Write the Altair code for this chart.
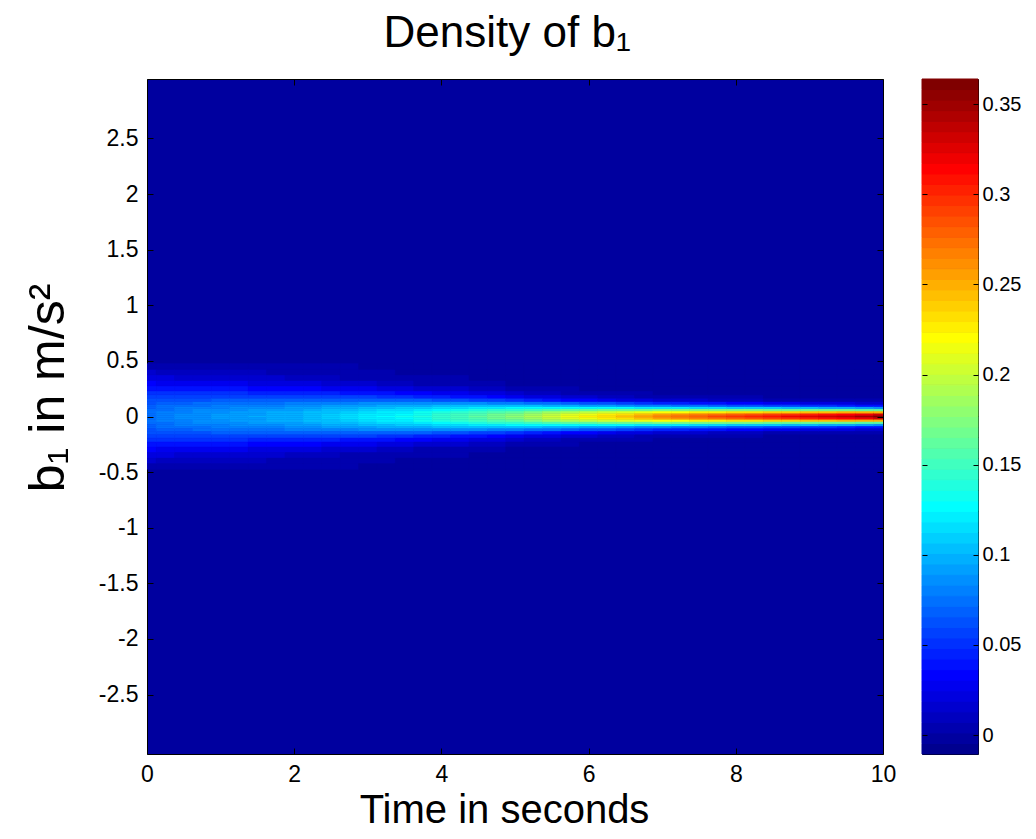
import altair as alt
import pandas as pd

# ---------------- text ----------------
TITLE = "Density of b₁"
X_TITLE = "Time in seconds"
Y_TITLE = "b₁ in m/s²"

# ---------------- data ----------------
# time columns (s)
times = [0, 0.25, 0.5, 0.75, 1, 1.25, 1.5, 1.75, 2, 2.25, 2.5, 2.75, 3, 3.25, 3.5, 3.75,
         4, 4.25, 4.5, 4.75, 5, 5.25, 5.5, 5.75, 6, 6.25, 6.5, 6.75, 7, 7.25, 7.5, 7.75,
         8, 8.25, 8.5, 8.75, 9, 9.25, 9.5, 9.75, 10]
# distance of each row from b1 = 0 (m/s^2), the profile is symmetric about 0
offsets = [0, 0.02, 0.04, 0.06, 0.08, 0.10, 0.12, 0.15, 0.18, 0.21, 0.25, 0.30, 0.35, 0.40, 0.45]
# density per time column, one value per offset
d_000 = [.075, .075, .074, .072, .070, .068, .065, .060, .055, .049, .041, .031, .021, .013, .007]
d_025 = [.080, .080, .079, .077, .074, .072, .068, .062, .056, .049, .040, .030, .020, .012, .007]
d_050 = [.085, .085, .083, .081, .078, .075, .071, .064, .057, .049, .039, .028, .018, .011, .006]
d_075 = [.088, .087, .086, .084, .080, .077, .073, .065, .057, .049, .039, .027, .017, .011, .006]
d_100 = [.090, .089, .088, .086, .082, .078, .074, .066, .057, .049, .038, .026, .016, .010, .005]
d_125 = [.093, .092, .091, .088, .084, .080, .075, .067, .057, .049, .037, .025, .015, .009, .005]
d_150 = [.095, .094, .093, .090, .086, .081, .076, .067, .057, .048, .036, .023, .014, .008, .004]
d_175 = [.098, .097, .095, .092, .088, .083, .077, .068, .057, .048, .035, .022, .013, .007, .004]
d_200 = [.100, .099, .097, .094, .090, .084, .078, .068, .057, .047, .034, .021, .012, .006, .003]
d_225 = [.105, .104, .102, .098, .093, .087, .080, .069, .057, .046, .032, .019, .010, .005, .003]
d_250 = [.110, .109, .106, .102, .096, .089, .081, .069, .056, .044, .030, .017, .008, .004, .002]
d_275 = [.115, .114, .111, .106, .099, .092, .083, .069, .055, .042, .028, .015, .007, .003, .002]
d_300 = [.120, .119, .115, .110, .102, .094, .084, .069, .054, .040, .025, .013, .006, .002, .001]
d_325 = [.125, .124, .120, .114, .105, .096, .085, .068, .052, .038, .023, .011, .005, .002, .001]
d_350 = [.130, .128, .124, .117, .108, .097, .085, .067, .050, .036, .021, .009, .004, .001, 0]
d_375 = [.137, .135, .131, .122, .112, .099, .086, .066, .048, .033, .018, .007, .003, .001, 0]
d_400 = [.145, .143, .137, .127, .115, .101, .086, .064, .045, .029, .015, .005, .002, 0, 0]
d_425 = [.152, .150, .143, .132, .118, .102, .086, .062, .042, .026, .013, .004, .002, 0, 0]
d_450 = [.160, .157, .149, .136, .120, .103, .085, .059, .038, .023, .010, .003, .001, 0, 0]
d_475 = [.170, .167, .157, .142, .123, .103, .083, .055, .034, .019, .008, .002, .001, 0, 0]
d_500 = [.180, .176, .165, .147, .126, .103, .080, .051, .029, .015, .005, .001, 0, 0, 0]
d_525 = [.192, .188, .174, .153, .128, .101, .076, .046, .024, .012, .004, .001, 0, 0, 0]
d_550 = [.205, .199, .183, .158, .129, .099, .072, .040, .019, .008, .002, 0, 0, 0, 0]
d_575 = [.215, .208, .190, .161, .129, .097, .068, .036, .016, .007, .002, 0, 0, 0, 0]
d_600 = [.225, .217, .196, .164, .128, .094, .064, .031, .013, .005, .001, 0, 0, 0, 0]
d_625 = [.235, .226, .202, .167, .127, .091, .060, .028, .011, .004, .001, 0, 0, 0, 0]
d_650 = [.245, .235, .208, .169, .126, .087, .055, .024, .009, .003, .001, 0, 0, 0, 0]
d_675 = [.255, .244, .213, .170, .124, .083, .051, .021, .007, .002, .001, 0, 0, 0, 0]
d_700 = [.265, .253, .218, .171, .122, .079, .046, .017, .005, .001, 0, 0, 0, 0, 0]
d_725 = [.273, .259, .222, .172, .120, .076, .043, .015, .004, .001, 0, 0, 0, 0, 0]
d_750 = [.280, .265, .225, .172, .118, .072, .040, .013, .003, .001, 0, 0, 0, 0, 0]
d_775 = [.288, .272, .229, .172, .115, .069, .037, .012, .003, .001, 0, 0, 0, 0, 0]
d_800 = [.295, .278, .232, .172, .112, .065, .034, .010, .002, 0, 0, 0, 0, 0, 0]
d_825 = [.303, .284, .235, .171, .110, .062, .031, .009, .002, 0, 0, 0, 0, 0, 0]
d_850 = [.310, .290, .238, .170, .107, .059, .028, .007, .001, 0, 0, 0, 0, 0, 0]
d_875 = [.318, .296, .241, .169, .104, .056, .026, .006, .001, 0, 0, 0, 0, 0, 0]
d_900 = [.325, .302, .243, .168, .101, .052, .023, .005, .001, 0, 0, 0, 0, 0, 0]
d_925 = [.333, .308, .245, .167, .098, .049, .021, .005, .001, 0, 0, 0, 0, 0, 0]
d_950 = [.340, .314, .247, .166, .095, .046, .019, .004, .001, 0, 0, 0, 0, 0, 0]
d_975 = [.350, .322, .249, .164, .091, .042, .017, .003, .001, 0, 0, 0, 0, 0, 0]
d_1000 = [.360, .329, .251, .161, .086, .038, .014, .002, 0, 0, 0, 0, 0, 0, 0]
density = [d_000, d_025, d_050, d_075, d_100, d_125, d_150, d_175, d_200, d_225, d_250,
           d_275, d_300, d_325, d_350, d_375, d_400, d_425, d_450, d_475, d_500,
           d_525, d_550, d_575, d_600, d_625, d_650, d_675, d_700, d_725, d_750,
           d_775, d_800, d_825, d_850, d_875, d_900, d_925, d_950, d_975, d_1000]

x_ticks = [0, 2, 4, 6, 8, 10]
y_ticks = [-2.5, -2, -1.5, -1, -0.5, 0, 0.5, 1, 1.5, 2, 2.5]
cbar_ticks = [0, 0.05, 0.1, 0.15, 0.2, 0.25, 0.3, 0.35]
x_domain = [0, 10]
y_domain = [-3.035, 3.035]
c_domain = [-0.0105, 0.364]

# ---------------- MATLAB jet(64) colormap ----------------
def jet(m=64):
    n = m // 4
    u = [k / n for k in range(1, n + 1)] + [1.0] * (n - 1) + [k / n for k in range(n, 0, -1)]
    J = [[0.0, 0.0, 0.0] for _ in range(m)]
    for i, ui in enumerate(u, start=1):
        g = n // 2 + i
        r = g + n
        b = g - n
        if r <= m:
            J[r - 1][0] = ui
        if g <= m:
            J[g - 1][1] = ui
        if b >= 1:
            J[b - 1][2] = ui
    return ["#%02x%02x%02x" % tuple(int(round(c * 255)) for c in row) for row in J]

JET = jet(64)
bg_index = int((0 - c_domain[0]) / (c_domain[1] - c_domain[0]) * 64)
BG = JET[bg_index]

# ---------------- build cell table ----------------
edges = [0.0] + [(offsets[i] + offsets[i + 1]) / 2 for i in range(len(offsets) - 1)]
edges.append(offsets[-1] + (offsets[-1] - offsets[-2]) / 2)
half_dt = (times[1] - times[0]) / 2
rows = []
for t, col in zip(times, density):
    for i, v in enumerate(col):
        if i == 0:
            rows.append(dict(t0=t - half_dt, t1=t + half_dt, b0=-edges[1], b1=edges[1], v=v))
        else:
            rows.append(dict(t0=t - half_dt, t1=t + half_dt, b0=edges[i], b1=edges[i + 1], v=v))
            rows.append(dict(t0=t - half_dt, t1=t + half_dt, b0=-edges[i + 1], b1=-edges[i], v=v))
cells = pd.DataFrame(rows)

FONT = "Liberation Sans"
LBL = 23
W, H = 736, 675
xs = alt.Scale(domain=x_domain, nice=False, zero=False)
ys = alt.Scale(domain=y_domain, nice=False, zero=False)
cs = alt.Scale(type="quantize", domain=c_domain, range=JET, nice=False)

tick_common = dict(tickSize=6, offset=-6, domain=False, grid=False, tickColor="black",
                   tickWidth=1, labelColor="black", titleColor="black", labelFont=FONT,
                   titleFont=FONT, labelFontSize=LBL, titleFontWeight="normal",
                   labelFlush=False, labelOverlap=False, zindex=2)

base = alt.Chart(cells)
heat = base.mark_rect(clip=True, strokeWidth=0.6).encode(
    x=alt.X("t0:Q", scale=xs, axis=alt.Axis(values=x_ticks, orient="bottom", title=X_TITLE,
                                            labelPadding=9, titleFontSize=40, titlePadding=4,
                                            titleX=W / 2 - 11,
                                            labelExpr="datum.value + ''", **tick_common)),
    x2="t1:Q",
    y=alt.Y("b0:Q", scale=ys, axis=alt.Axis(values=y_ticks, orient="left", title=Y_TITLE,
                                            labelPadding=9, titleFontSize=50, titlePadding=25,
                                            titleY=H / 2 - 29,
                                            labelExpr="datum.value + ''", **tick_common)),
    y2="b1:Q",
    color=alt.Color("v:Q", scale=cs, legend=None),
    stroke=alt.Stroke("v:Q", scale=cs, legend=None),
)
frame_ticks = base.mark_rect(opacity=0).encode(
    x=alt.X("t0:Q", scale=xs, axis=alt.Axis(values=x_ticks, orient="top", title=None,
                                            labels=False, **tick_common)),
    y=alt.Y("b0:Q", scale=ys, axis=alt.Axis(values=y_ticks, orient="right", title=None,
                                            labels=False, **tick_common)),
)
main = alt.layer(heat, frame_ticks).resolve_axis(x="independent", y="independent").properties(
    width=W, height=H
)

# ---------------- colour bar ----------------
nlev = len(JET)
step = (c_domain[1] - c_domain[0]) / nlev
cbar = pd.DataFrame({
    "col": ["bar"] * nlev,
    "lo": [c_domain[0] + k * step for k in range(nlev)],
    "hi": [c_domain[0] + (k + 1) * step for k in range(nlev)],
    "mid": [c_domain[0] + (k + 0.5) * step for k in range(nlev)],
})
cb_tick = dict(tickSize=5, offset=-5, domain=False, grid=False, tickColor="black", tickWidth=1,
               labelColor="black", labelFont=FONT, labelFontSize=20, labelFlush=False,
               labelOverlap=False, zindex=2)
cys = alt.Scale(domain=c_domain, nice=False, zero=False)
cxs = alt.Scale(paddingInner=0, paddingOuter=0)
cb_rect = alt.Chart(cbar).mark_rect().encode(
    x=alt.X("col:N", scale=cxs, axis=None),
    y=alt.Y("lo:Q", scale=cys, axis=alt.Axis(values=cbar_ticks, orient="right", title=None,
                                             labelPadding=4, labelExpr="datum.value + ''",
                                             **cb_tick)),
    y2="hi:Q",
    color=alt.Color("mid:Q", scale=cs, legend=None),
    stroke=alt.Stroke("mid:Q", scale=cs, legend=None),
)
cb_left = alt.Chart(cbar).mark_rect(opacity=0).encode(
    x=alt.X("col:N", scale=cxs, axis=None),
    y=alt.Y("lo:Q", scale=cys, axis=alt.Axis(values=cbar_ticks, orient="left", title=None,
                                             labels=False, **cb_tick)),
    y2="hi:Q",
)
colorbar = alt.layer(cb_rect, cb_left).resolve_axis(y="independent").properties(width=56, height=H)

chart = alt.hconcat(main, colorbar, spacing=24).properties(
    title=alt.TitleParams(TITLE, fontSize=44, font=FONT, fontWeight="normal", color="black",
                          anchor="middle", offset=22, dx=-15),
    padding={"left": 14, "top": 4, "right": 0, "bottom": 0},
    background="white",
).configure_view(
    stroke="black", strokeWidth=1, fill=BG
)

chart.save("out.html", embed_options={"renderer": "svg", "actions": False})
